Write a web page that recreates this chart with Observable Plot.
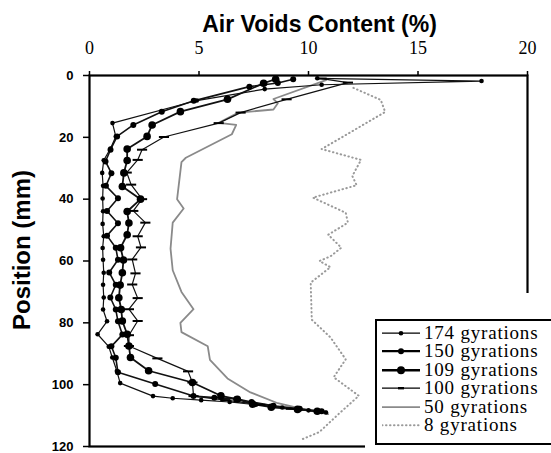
<!DOCTYPE html>
<html>
<head>
<meta charset="utf-8">
<script src="https://cdn.jsdelivr.net/npm/d3@7"></script>
<script src="https://cdn.jsdelivr.net/npm/@observablehq/plot@0.6"></script>
<style>
  html, body { margin: 0; padding: 0; background: #fff; overflow: hidden; }
  #wrap { position: relative; width: 551px; height: 453px; overflow: hidden; }
  #mask { position: absolute; left: 365px; top: 293px; width: 186px; height: 160px; background: #fff; }
  #legend { position: absolute; left: 375px; top: 319px; width: 200px; height: 119px; border: 2.5px solid #000; background: #fff; padding-top: 3px; box-sizing: content-box; }
  .row { height: 18.4px; line-height: 18.4px; white-space: nowrap; font-family: "Liberation Serif", "Times New Roman", Times, serif; font-size: 19px; letter-spacing: 0.8px; color: #000; }
  .row svg { vertical-align: top; margin-left: 5px; margin-right: 4px; }
</style>
</head>
<body>
<div id="wrap"></div>
<script>
// [position (mm), air voids (%)]
const g174 = [[0.9,10.4],[1.8,17.9],[3.0,10.6],[4.4,8.0],[8.1,4.9],[15.4,1.05],[19.7,1.2],[23.6,0.96],[27.4,0.65],[31.5,0.58],[35.7,0.62],[39.8,0.6],[43.9,0.62],[48,0.6],[52,0.65],[55.8,0.6],[59.6,0.62],[63.8,0.65],[67.7,0.62],[71.8,0.65],[75.7,0.62],[79.5,0.8],[83.7,0.37],[87.7,0.88],[91.2,1.04],[95.6,1.25],[99.5,1.4],[103.7,2.9],[104.4,3.8],[105,5.1],[105.6,6.4],[106.5,7.6],[107.4,8.8],[108.3,10.0],[109,10.8]];
const g150 = [[1.2,9.3],[2.4,8.6],[3.6,7.3],[8.2,4.76],[11.7,3.3],[16,2.0],[19.7,1.26],[24,0.96],[27.8,0.73],[31.6,1.0],[35.7,0.75],[39.7,1.3],[43.8,0.8],[47.8,1.3],[51.8,0.8],[55.7,1.2],[59.6,1.3],[63.7,0.9],[67.7,1.2],[71.8,0.95],[75.7,1.2],[79.5,1.3],[83.8,1.5],[87.6,1.0],[91.3,1.2],[96,1.3],[99.8,3.0],[103.7,4.75],[104.2,5.7],[104.6,6.7],[105.6,7.4],[106.8,8.4],[107.8,9.6],[108.6,10.6]];
const g109 = [[1.2,8.5],[2.5,7.95],[7.7,6.3],[11.7,4.15],[16,2.86],[19.7,2.63],[23.8,1.72],[27.5,1.72],[31.5,1.57],[35.9,1.5],[40,2.33],[44,1.72],[47.7,1.8],[51.5,1.72],[55.7,1.42],[59.7,1.55],[63.8,1.5],[67.8,1.4],[71.9,1.34],[75.7,1.45],[79.4,1.5],[83.7,1.72],[87.5,1.8],[91.2,1.87],[95.5,2.7],[99.3,4.7],[103.6,6.0],[104.7,6.75],[106.3,7.45],[107.3,8.3],[108,9.5],[108.6,10.4]];
const g100 = [[1.0,10.6],[2.3,11.8],[7.7,9.0],[12,6.9],[15.4,5.9],[19.9,3.4],[24,2.4],[27.3,2.2],[31.4,1.7],[35.3,1.9],[40,2.4],[43.8,2.0],[47.6,2.55],[52,2.2],[55.6,2.35],[59.5,1.95],[64,2.1],[67.6,1.95],[72,2.2],[75.6,1.8],[79.4,2.2],[84,1.8],[87.5,1.8],[91.5,3.1],[95.7,4.5],[99.3,4.7],[103.7,4.75],[105,6.2],[106.5,7.8],[107.8,9.2],[108.7,10.6]];
const g50 = [[1.5,10.8],[7.6,8.4],[9,8.6],[11,8.4],[12,6.8],[15.3,5.9],[16,6.7],[19,6.5],[26.6,4.4],[28,4.2],[40,4.0],[43,4.3],[47.6,3.8],[56,3.7],[63,3.8],[70,4.2],[75.6,4.75],[80,4.15],[83,4.2],[87.6,5.4],[92,5.5],[98,6.3],[102.5,7.35],[106,8.6],[108.5,10.1],[109.5,10.9]];
const g8 = [[4,12.05],[7.9,13.3],[11.8,13.5],[23.8,10.6],[27.3,12.4],[32.5,12.0],[35.5,12.2],[39.5,10.2],[44.4,11.7],[47.6,11.8],[51.5,10.9],[55.7,11.5],[58.5,11.0],[60,10.5],[62,11.0],[67,10.1],[79,10.15],[84.7,11.0],[91.8,11.7],[97.6,11.15],[103.6,12.3],[109,11.45],[115.3,10.5],[118,9.6]];

const xTicks = [0, 5, 10, 15, 20];
const yTicks = [0, 20, 40, 60, 80, 100, 120];
const legendLabels = ["174 gyrations", "150 gyrations", "109 gyrations", "100 gyrations", "50 gyrations", "8 gyrations"];

const rows = a => a.map(([pos, av]) => ({pos, av}));
const d174 = rows(g174), d150 = rows(g150), d109 = rows(g109), d100 = rows(g100), d50 = rows(g50), d8 = rows(g8);

const dash = { draw(ctx, size) { const w = Math.sqrt(size) * 1.1; ctx.moveTo(-w, 0); ctx.lineTo(w, 0); } };
const SANS = "'Liberation Sans', Arial, Helvetica, sans-serif";
const SERIF = "'Liberation Serif', 'Times New Roman', Times, serif";

const chart = Plot.plot({
  width: 551,
  height: 453,
  marginLeft: 89,
  marginRight: 24,
  marginTop: 75,
  marginBottom: 7,
  x: { domain: [0, 20] },
  y: { domain: [0, 120], reverse: true },
  marks: [
    Plot.line(d8, { x: "av", y: "pos", stroke: "#9a9a9a", strokeWidth: 2, strokeDasharray: "0.5,3.5", strokeLinecap: "round" }),
    Plot.line(d50, { x: "av", y: "pos", stroke: "#8a8a8a", strokeWidth: 1.8 }),
    Plot.line(d100, { x: "av", y: "pos", stroke: "#111", strokeWidth: 1.2 }),
    Plot.line(d109, { x: "av", y: "pos", stroke: "#111", strokeWidth: 1.8 }),
    Plot.line(d150, { x: "av", y: "pos", stroke: "#111", strokeWidth: 1.6 }),
    Plot.line(d174, { x: "av", y: "pos", stroke: "#111", strokeWidth: 1.2 }),
    Plot.dot(d100, { x: "av", y: "pos", symbol: dash, r: 2.6, stroke: "#000", strokeWidth: 2 }),
    Plot.dot(d109, { x: "av", y: "pos", r: 3.8, fill: "#000" }),
    Plot.dot(d150, { x: "av", y: "pos", r: 3, fill: "#000" }),
    Plot.dot(d174, { x: "av", y: "pos", r: 2.3, fill: "#000" }),
    Plot.frame({ stroke: "#000", strokeWidth: 2.2 }),
    Plot.axisX({ anchor: "top", ticks: xTicks, tickSize: 5, tickPadding: 17, label: null, fontSize: 18, fontFamily: SERIF, strokeWidth: 1.5, color: "#000" }),
    Plot.axisY({ anchor: "left", ticks: yTicks, tickSize: 6, tickPadding: 10, label: null, fontSize: 13, fontWeight: "bold", fontFamily: SANS, strokeWidth: 1.5, color: "#000" }),
    Plot.text(["Air Voids Content (%)"], { text: d => d, frameAnchor: "top", textAnchor: "middle", lineAnchor: "middle", dy: -51, dx: 11, fontSize: 23, fontWeight: "bold", fontFamily: SANS, fill: "#000" }),
    Plot.text(["Position (mm)"], { text: d => d, frameAnchor: "left", textAnchor: "middle", lineAnchor: "middle", dx: -67, dy: -11, rotate: -90, fontSize: 24, fontWeight: "bold", fontFamily: SANS, fill: "#000" })
  ]
});

const wrap = document.getElementById("wrap");
wrap.appendChild(chart);

const mask = document.createElement("div");
mask.id = "mask";
wrap.appendChild(mask);

const legendStyles = [
  { stroke: "#000", sw: 1.3, r: 2.3, kind: "dot" },
  { stroke: "#000", sw: 2.2, r: 3.0, kind: "dot" },
  { stroke: "#000", sw: 2.4, r: 4.0, kind: "dot" },
  { stroke: "#000", sw: 1.3, r: 0, kind: "dash" },
  { stroke: "#8a8a8a", sw: 1.8, r: 0, kind: "none" },
  { stroke: "#9a9a9a", sw: 2, r: 0, kind: "dotted" }
];
const legend = document.createElement("div");
legend.id = "legend";
legendLabels.forEach((label, i) => {
  const s = legendStyles[i];
  const row = document.createElement("div");
  row.className = "row";
  let marker = "";
  if (s.kind === "dot") marker = `<circle cx="19" cy="9.2" r="${s.r}" fill="#000"/>`;
  if (s.kind === "dash") marker = `<line x1="16" x2="22" y1="9.2" y2="9.2" stroke="#000" stroke-width="2.4"/>`;
  const dasharr = s.kind === "dotted" ? ` stroke-dasharray="0.5,3.5" stroke-linecap="round"` : "";
  row.innerHTML = `<svg width="38" height="18.4"><line x1="0" x2="38" y1="9.2" y2="9.2" stroke="${s.stroke}" stroke-width="${s.sw}"${dasharr}/>${marker}</svg>${label}`;
  legend.appendChild(row);
});
wrap.appendChild(legend);
</script>
</body>
</html>
